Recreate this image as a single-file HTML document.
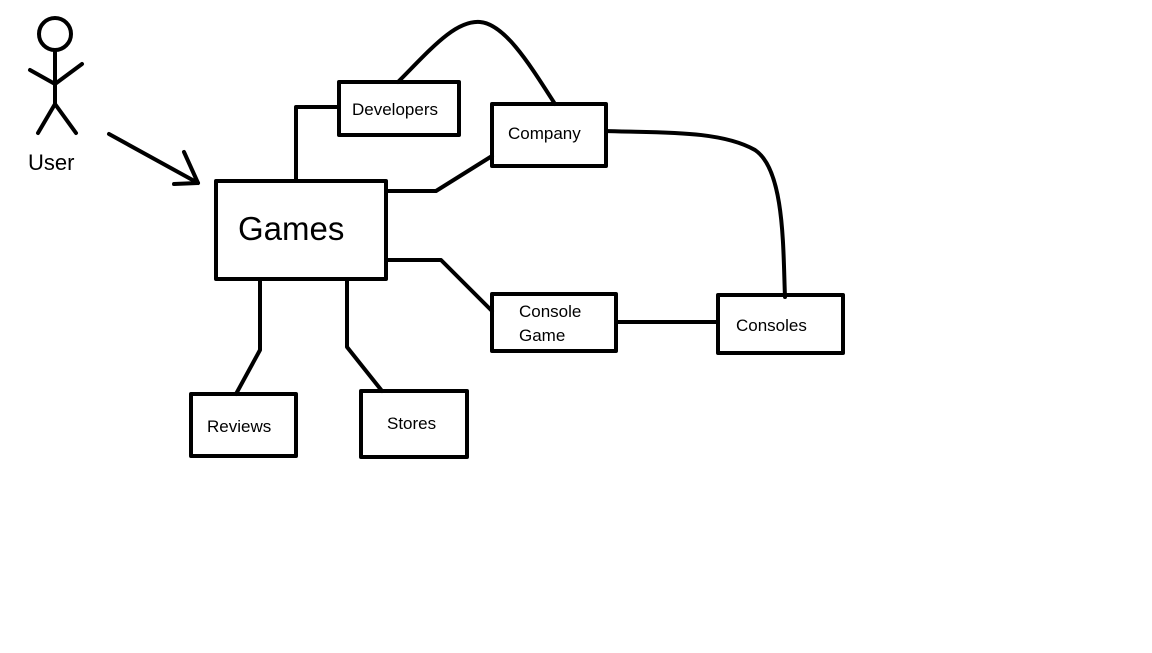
<!DOCTYPE html>
<html><head><meta charset="utf-8"><style>
html,body{margin:0;padding:0;background:#fff;}
svg text{font-family:"Liberation Sans",sans-serif;fill:#000;}
</style></head><body>
<svg width="1152" height="648" viewBox="0 0 1152 648" xmlns="http://www.w3.org/2000/svg">
<g fill="none" stroke="#000" stroke-width="4" stroke-linejoin="round" stroke-linecap="round">
<!-- user -->
<circle cx="55" cy="34" r="16"/>
<line x1="55" y1="50" x2="55" y2="104"/>
<polyline points="30,70 55,84 82,64"/>
<polyline points="38,133 55,104 76,133"/>
<!-- arrow -->
<line x1="109" y1="134" x2="198" y2="183"/>
<polyline points="184,152 198,183 174,184"/>
<!-- boxes -->
<rect x="339" y="82" width="120" height="53"/>
<rect x="492" y="104" width="114" height="62"/>
<rect x="216" y="181" width="170" height="98"/>
<rect x="492" y="294" width="124" height="57"/>
<rect x="718" y="295" width="125" height="58"/>
<rect x="191" y="394" width="105" height="62"/>
<rect x="361" y="391" width="106" height="66"/>
<!-- connectors -->
<polyline points="296,181 296,107 339,107"/>
<polyline points="386,191 436,191 492,156"/>
<polyline points="386,260 441,260 492,311"/>
<line x1="616" y1="322" x2="718" y2="322"/>
<polyline points="260,279 260,350 236,394"/>
<polyline points="347,279 347,347 382,391"/>
<path d="M398,82 C430,50 455,20 480,22 C505,24 530,65 555,104"/>
<path d="M606,131 C660,133 720,130 755,150 C785,170 783,250 785,297"/>
</g>
<text x="28" y="170" font-size="22">User</text>
<text x="352" y="115" font-size="17">Developers</text>
<text x="508" y="139" font-size="17">Company</text>
<text x="238" y="240" font-size="33">Games</text>
<text x="519" y="317" font-size="17">Console</text>
<text x="519" y="341" font-size="17">Game</text>
<text x="736" y="331" font-size="17">Consoles</text>
<text x="207" y="432" font-size="17">Reviews</text>
<text x="387" y="429" font-size="17">Stores</text>
</svg>
</body></html>
